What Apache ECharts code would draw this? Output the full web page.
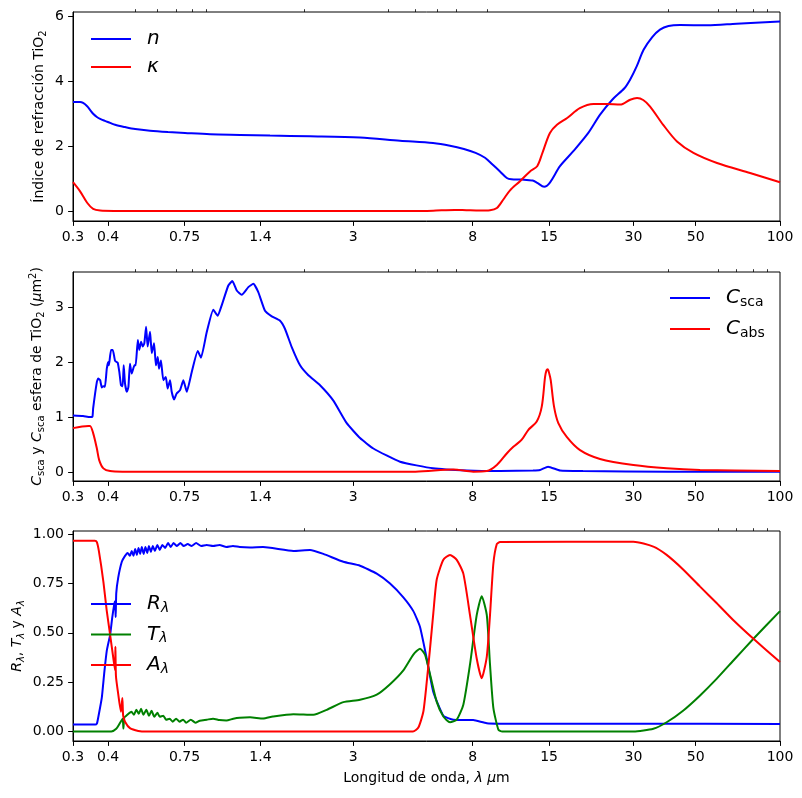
<!DOCTYPE html>
<html><head><meta charset="utf-8">
<script src="https://cdn.jsdelivr.net/npm/echarts@6.0.0/dist/echarts.min.js"></script>
<style>html,body{margin:0;padding:0;background:#fff}#c{width:802px;height:798px}</style>
</head><body><div id="c"></div>
<script>
// ---- tick labels ----
const xTicks = [0.3, 0.4, 0.75, 1.4, 3, 8, 15, 30, 50, 100];
const xMinorTicks = [0.5, 0.6, 0.7, 0.8, 0.9, 2, 4, 5, 6, 7, 9, 20, 40, 60, 70, 80, 90];
const y1Ticks = [0, 2, 4, 6];
const y2Ticks = [0, 1, 2, 3];
const y3Ticks = [0, 0.25, 0.5, 0.75, 1.0];

// ---- panel 1: refractive index (wavelength um, value) ----
const nData = [[0.300,3.36],[0.318,3.36],[0.326,3.33],[0.337,3.23],[0.345,3.12],[0.354,3.00],[0.365,2.90],[0.375,2.84],[0.390,2.78],[0.407,2.72],[0.424,2.66],[0.460,2.59],[0.500,2.53],[0.565,2.48],[0.655,2.44],[0.753,2.41],[0.925,2.37],[1.183,2.35],[1.514,2.33],[2.104,2.31],[3.172,2.27],[4.407,2.17],[5.78,2.10],[6.644,2.02],[7.45,1.92],[8.2,1.80],[8.86,1.65],[9.4,1.45],[10.02,1.23],[10.6,1.03],[11.0,0.99],[12.0,0.98],[13.1,0.95],[13.6,0.88],[14.4,0.76],[15.1,0.89],[16.4,1.39],[18.3,1.85],[20.7,2.41],[22.8,2.97],[25.2,3.43],[27.9,3.79],[29.2,4.05],[30.8,4.45],[32.6,4.96],[35.0,5.35],[37.3,5.58],[40.0,5.69],[44.0,5.72],[55.0,5.71],[70.0,5.76],[100,5.83]];
const kData = [[0.300,0.90],[0.318,0.62],[0.337,0.27],[0.354,0.08],[0.375,0.03],[0.42,0.02],[1.0,0.02],[3.0,0.02],[5.5,0.02],[6.2,0.04],[6.9,0.05],[7.6,0.04],[8.5,0.03],[9.23,0.04],[9.77,0.11],[10.3,0.37],[10.88,0.65],[11.81,0.93],[12.82,1.23],[13.6,1.39],[14.2,1.80],[15.1,2.41],[16.0,2.66],[17.4,2.87],[19.3,3.17],[21.6,3.30],[24.1,3.30],[26.9,3.28],[29.2,3.43],[30.9,3.48],[32.5,3.42],[34.4,3.22],[38.3,2.66],[42.9,2.15],[49.1,1.80],[59.6,1.49],[78.2,1.18],[100,0.90]];

// ---- panel 2: cross sections (um^2) ----
const cscaData = [[0.300,1.03],[0.326,1.02],[0.345,1.00],[0.352,1.01],[0.354,1.16],[0.365,1.64],[0.369,1.70],[0.375,1.67],[0.380,1.54],[0.385,1.56],[0.390,1.55],[0.396,1.88],[0.401,2.00],[0.403,1.94],[0.410,2.22],[0.416,2.22],[0.424,2.02],[0.433,1.99],[0.439,1.82],[0.445,1.58],[0.451,1.56],[0.455,1.94],[0.460,1.61],[0.467,1.46],[0.473,1.55],[0.479,1.97],[0.486,1.79],[0.497,1.94],[0.502,1.94],[0.511,2.40],[0.517,2.22],[0.525,2.37],[0.532,2.28],[0.539,2.34],[0.547,2.64],[0.554,2.28],[0.565,2.55],[0.573,2.16],[0.584,2.34],[0.593,1.94],[0.602,2.09],[0.608,1.88],[0.618,2.03],[0.630,1.67],[0.643,1.73],[0.653,1.52],[0.666,1.67],[0.675,1.46],[0.688,1.32],[0.703,1.43],[0.723,1.49],[0.743,1.67],[0.764,1.46],[0.796,1.82],[0.836,2.20],[0.859,2.08],[0.900,2.54],[0.950,2.95],[0.985,2.84],[1.018,3.03],[1.075,3.39],[1.111,3.47],[1.152,3.30],[1.200,3.22],[1.267,3.36],[1.320,3.42],[1.375,3.27],[1.453,2.93],[1.536,2.83],[1.644,2.75],[1.713,2.60],[1.810,2.27],[1.938,1.94],[2.075,1.76],[2.284,1.58],[2.548,1.30],[2.844,0.89],[3.172,0.62],[3.539,0.43],[4.407,0.19],[5.78,0.07],[7.64,0.03],[10.02,0.02],[13.14,0.03],[13.92,0.04],[14.87,0.10],[16.41,0.03],[19.82,0.02],[40,0.01],[100,0.01]];
const cabsData = [[0.300,0.80],[0.340,0.84],[0.345,0.84],[0.354,0.71],[0.365,0.43],[0.372,0.22],[0.385,0.07],[0.407,0.02],[0.45,0.01],[5.0,0.01],[6.83,0.05],[8.05,0.01],[8.99,0.02],[9.76,0.13],[10.59,0.34],[11.18,0.46],[11.98,0.59],[12.65,0.77],[13.55,0.92],[14.12,1.19],[14.51,1.73],[14.68,1.85],[14.83,1.87],[15.0,1.80],[15.20,1.67],[15.62,1.19],[16.18,0.89],[17.34,0.64],[19.34,0.40],[22.79,0.24],[29.98,0.13],[39.4,0.07],[51.86,0.04],[100,0.02]];

// ---- panel 3: R, T, A ----
const rData = [[0.300,0.035],[0.360,0.035],[0.365,0.04],[0.369,0.07],[0.380,0.17],[0.388,0.30],[0.396,0.41],[0.407,0.49],[0.414,0.576],[0.421,0.644],[0.424,0.66],[0.426,0.58],[0.428,0.70],[0.435,0.78],[0.448,0.86],[0.460,0.89],[0.470,0.905],[0.479,0.89],[0.486,0.915],[0.493,0.89],[0.500,0.925],[0.507,0.895],[0.514,0.93],[0.521,0.90],[0.528,0.935],[0.536,0.90],[0.544,0.935],[0.552,0.905],[0.560,0.94],[0.569,0.91],[0.578,0.94],[0.588,0.915],[0.600,0.945],[0.612,0.92],[0.625,0.945],[0.640,0.93],[0.655,0.955],[0.670,0.935],[0.685,0.955],[0.705,0.94],[0.725,0.955],[0.745,0.94],[0.770,0.95],[0.795,0.94],[0.825,0.955],[0.86,0.94],[0.90,0.945],[0.948,0.94],[1.0,0.945],[1.058,0.935],[1.117,0.94],[1.180,0.935],[1.285,0.933],[1.43,0.935],[1.834,0.915],[2.104,0.92],[2.347,0.90],[2.766,0.86],[3.172,0.84],[3.639,0.80],[4.059,0.75],[4.528,0.68],[4.916,0.61],[5.193,0.53],[5.487,0.37],[5.793,0.20],[6.291,0.08],[6.83,0.06],[8.05,0.058],[8.99,0.042],[10.02,0.04],[30,0.04],[100,0.038]];
const tData = [[0.300,0.0],[0.411,0.0],[0.428,0.014],[0.440,0.04],[0.451,0.065],[0.454,0.015],[0.457,0.07],[0.465,0.08],[0.485,0.10],[0.495,0.085],[0.505,0.11],[0.515,0.09],[0.525,0.115],[0.535,0.085],[0.548,0.11],[0.560,0.08],[0.572,0.105],[0.585,0.075],[0.600,0.095],[0.612,0.075],[0.630,0.08],[0.645,0.06],[0.664,0.065],[0.680,0.05],[0.700,0.065],[0.720,0.05],[0.741,0.06],[0.760,0.045],[0.790,0.06],[0.820,0.045],[0.850,0.055],[0.900,0.06],[0.948,0.065],[1.0,0.058],[1.058,0.056],[1.12,0.065],[1.18,0.07],[1.285,0.072],[1.43,0.066],[1.55,0.076],[1.834,0.088],[2.162,0.085],[2.413,0.11],[2.766,0.149],[3.172,0.161],[3.639,0.187],[4.059,0.24],[4.528,0.31],[4.916,0.39],[5.193,0.42],[5.411,0.39],[5.638,0.29],[5.958,0.15],[6.291,0.076],[6.644,0.047],[7.022,0.06],[7.413,0.136],[7.831,0.34],[8.274,0.59],[8.621,0.686],[8.99,0.59],[9.229,0.34],[9.487,0.12],[9.886,0.01],[10.2,0.0],[30,0.0],[35.33,0.014],[39.4,0.047],[45.21,0.107],[51.86,0.183],[59.5,0.268],[68.2,0.36],[80.4,0.47],[100,0.61]];
const aData = [[0.300,0.967],[0.359,0.967],[0.365,0.96],[0.371,0.915],[0.385,0.76],[0.396,0.61],[0.407,0.49],[0.418,0.37],[0.424,0.31],[0.425,0.43],[0.427,0.28],[0.435,0.19],[0.445,0.10],[0.450,0.17],[0.453,0.08],[0.460,0.05],[0.479,0.017],[0.513,0.003],[0.55,0.0],[4.9,0.0],[5.122,0.02],[5.336,0.10],[5.487,0.25],[5.638,0.42],[5.793,0.60],[5.958,0.77],[6.291,0.87],[6.644,0.895],[7.022,0.87],[7.413,0.80],[7.831,0.59],[8.274,0.37],[8.621,0.27],[8.99,0.38],[9.229,0.59],[9.487,0.85],[9.76,0.95],[10.02,0.96],[29.98,0.962],[35.33,0.937],[39.4,0.895],[45.21,0.82],[51.86,0.734],[59.5,0.65],[68.2,0.564],[80.4,0.47],[100,0.352]];

const FONT = 'DejaVu Sans';
const BLUE = '#0000ff', RED = '#ff0000', GREEN = '#008000';

const nameRich = {
  i: {fontFamily: FONT, fontStyle: 'italic', fontSize: 14, lineHeight: 18, color: '#000'},
  s: {fontFamily: FONT, fontSize: 10, lineHeight: 8, verticalAlign: 'bottom', color: '#000'},
  si: {fontFamily: FONT, fontStyle: 'italic', fontSize: 10, lineHeight: 8, verticalAlign: 'bottom', color: '#000'},
  sup: {fontFamily: FONT, fontSize: 10, lineHeight: 8, verticalAlign: 'top', color: '#000'}
};
const legRich = {
  i: {fontFamily: FONT, fontStyle: 'italic', fontSize: 20, lineHeight: 22, color: '#000'},
  s: {fontFamily: FONT, fontSize: 14, lineHeight: 12, verticalAlign: 'bottom', color: '#000'},
  si: {fontFamily: FONT, fontStyle: 'italic', fontSize: 14, lineHeight: 12, verticalAlign: 'bottom', color: '#000'}
};
const legendNames = {
  'n': '{i|n}', 'κ': '{i|κ}',
  'Csca': '{i|C}{s|sca}', 'Cabs': '{i|C}{s|abs}',
  'R': '{i|R}{si|λ}', 'T': '{i|T}{si|λ}', 'A': '{i|A}{si|λ}'
};

function xLabel(v) {
  let best = xTicks[0], bd = Infinity;
  for (const t of xTicks) { const d = Math.abs(Math.log(v / t)); if (d < bd) { bd = d; best = t; } }
  return String(best);
}

const grids = [
  {left: 73, top: 12, width: 707, height: 209},
  {left: 73, top: 272, width: 707, height: 209},
  {left: 73, top: 531, width: 707, height: 210}
].map(g => Object.assign({show: true, borderColor: '#000', borderWidth: 1, backgroundColor: 'transparent'}, g));

const xAxes = [];
grids.forEach((g, gi) => {
  const base = {type: 'log', logBase: 10, min: 0.3, max: 100, gridIndex: gi, splitLine: {show: false}};
  xAxes.push(Object.assign({}, base, {
    axisLine: {show: true, onZero: false, lineStyle: {color: '#000', width: 1}},
    axisTick: {show: true, customValues: xTicks, length: 4.9, lineStyle: {color: '#000', width: 1}},
    axisLabel: {show: true, customValues: xTicks, formatter: xLabel, margin: 9, color: '#000', fontFamily: FONT, fontSize: 14, hideOverlap: false},
    name: gi === 2 ? 'Longitud de onda, {i|λ} {i|μ}m' : '',
    nameLocation: 'middle', nameGap: 28, nameMoveOverlap: false,
    nameTextStyle: {fontFamily: FONT, fontSize: 14, lineHeight: 18, color: '#000', rich: nameRich}
  }));
  xAxes.push(Object.assign({}, base, {
    axisLine: {show: false, onZero: false},
    axisTick: {show: true, customValues: xMinorTicks, length: 2.8, lineStyle: {color: '#000', width: 0.8}},
    axisLabel: {show: false}
  }));
});

function yAxis(gi, min, max, ticks, fmt, name, gap) {
  return {
    type: 'value', gridIndex: gi, min: min, max: max, splitLine: {show: false},
    axisLine: {show: true, onZero: false, lineStyle: {color: '#000', width: 1}},
    axisTick: {show: true, customValues: ticks, length: 4.9, lineStyle: {color: '#000', width: 1}},
    axisLabel: {show: true, customValues: ticks, formatter: fmt, margin: 9, color: '#000', fontFamily: FONT, fontSize: 14},
    name: name, nameLocation: 'middle', nameRotate: 90, nameGap: gap, nameMoveOverlap: false,
    nameTextStyle: {fontFamily: FONT, fontSize: 14, lineHeight: 18, color: '#000', rich: nameRich}
  };
}
const yAxes = [
  yAxis(0, -0.29, 6.12, y1Ticks, v => String(Math.round(v)), 'Índice de refracción TiO{s|2}', 25),
  yAxis(1, -0.16, 3.635, y2Ticks, v => String(Math.round(v)), '{i|C}{s|sca} y {i|C}{s|sca} esfera de TiO{s|2} ({i|μ}m{sup|2})', 26.5),
  yAxis(2, -0.048, 1.016, y3Ticks, v => v.toFixed(2), '{i|R}{si|λ}, {i|T}{si|λ} y {i|A}{si|λ}', 47)
];

function line(name, data, gi, color, smooth) {
  return {
    type: 'line', name: name, data: data, xAxisIndex: gi * 2, yAxisIndex: gi,
    showSymbol: false, symbol: 'none', smooth: smooth, clip: true,
    lineStyle: {color: color, width: 2}, itemStyle: {color: color},
    emphasis: {disabled: true}, animation: false
  };
}

function legend(names, left, top, gap) {
  return {
    data: names, left: left, top: top, orient: 'vertical', padding: 0, itemGap: gap,
    itemWidth: 40, itemHeight: 2, icon: 'rect', selectedMode: false,
    formatter: nm => legendNames[nm],
    textStyle: {fontFamily: FONT, fontSize: 20, lineHeight: 22, color: '#000', padding: [0, 0, 0, 11], rich: legRich}
  };
}

const chart = echarts.init(document.getElementById('c'), null, {renderer: 'canvas'});
chart.setOption({
  animation: false,
  backgroundColor: '#fff',
  grid: grids,
  xAxis: xAxes,
  yAxis: yAxes,
  legend: [
    legend(['n', 'κ'], 91, 28, 6),
    legend(['Csca', 'Cabs'], 670, 287, 9),
    legend(['R', 'T', 'A'], 91, 593, 8.5)
  ],
  series: [
    line('n', nData, 0, BLUE, 0.3),
    line('κ', kData, 0, RED, 0.3),
    line('Csca', cscaData, 1, BLUE, 0.15),
    line('Cabs', cabsData, 1, RED, 0.3),
    line('R', rData, 2, BLUE, 0.15),
    line('T', tData, 2, GREEN, 0.2),
    line('A', aData, 2, RED, 0.2)
  ]
});
</script></body></html>
